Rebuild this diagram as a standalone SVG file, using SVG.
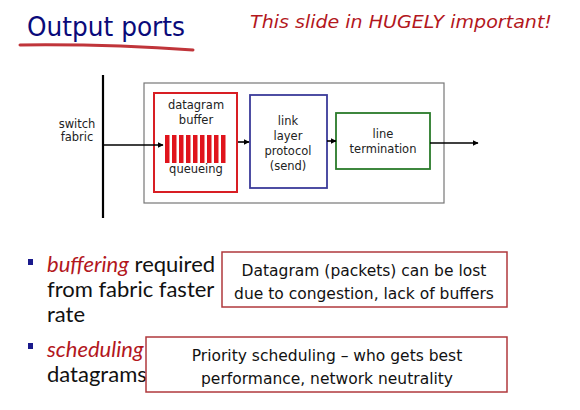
<svg xmlns="http://www.w3.org/2000/svg" width="580" height="410" viewBox="0 0 580 410">
<defs>
<marker id="ah" viewBox="0 0 10 10" refX="9" refY="5" markerWidth="6" markerHeight="6" orient="auto" markerUnits="userSpaceOnUse"><path d="M0,0 L10,5 L0,10 z" fill="#000"/></marker>
<style>
.lbl{font-family:"DejaVu Sans",Verdana,sans-serif;font-size:11.5px;fill:#222;text-anchor:middle}
.note{font-family:"DejaVu Sans",Verdana,sans-serif;font-size:15.5px;fill:#111;text-anchor:middle}
.bul{font-family:Lato,"Liberation Sans",sans-serif;font-size:22px;fill:#111}
.em{fill:#b3171d;font-style:italic}
.conn{stroke:#000;stroke-width:1.6;fill:none;marker-end:url(#ah)}
.bar{fill:#e0141c}
</style>
</defs>
<rect width="580" height="410" fill="#fff"/>
<text x="27" y="36" font-family="DejaVu Sans,Verdana,sans-serif" font-size="26" fill="#0a0a7a" textLength="158" lengthAdjust="spacingAndGlyphs">Output ports</text>
<path d="M20,45 Q110,44 193,50" stroke="#c0353a" stroke-width="3" fill="none" stroke-linecap="round"/>
<text x="250" y="28" font-family="DejaVu Sans,Verdana,sans-serif" font-size="17.5" font-style="italic" fill="#b3171d" textLength="302" lengthAdjust="spacingAndGlyphs">This slide in HUGELY important!</text>

<g id="fabric">
<line x1="103" y1="75" x2="103" y2="218" stroke="#000" stroke-width="2.2"/>
<text class="lbl" x="77" y="128">switch</text>
<text class="lbl" x="77" y="141">fabric</text>
</g>
<g id="port">
<rect x="144" y="83" width="300" height="120" fill="#fff" stroke="#777" stroke-width="1.2"/>
</g>
<g id="buffer">
<rect x="154" y="93" width="83" height="99" fill="#fff" stroke="#d81e24" stroke-width="2"/>
<text class="lbl" x="196" y="109">datagram</text>
<text class="lbl" x="196" y="124">buffer</text>
<g>
<rect class="bar" x="165" y="135" width="4.5" height="28"/>
<rect class="bar" x="172" y="135" width="4.5" height="28"/>
<rect class="bar" x="179" y="135" width="4.5" height="28"/>
<rect class="bar" x="186" y="135" width="4.5" height="28"/>
<rect class="bar" x="193" y="135" width="4.5" height="28"/>
<rect class="bar" x="200" y="135" width="4.5" height="28"/>
<rect class="bar" x="207" y="135" width="4.5" height="28"/>
<rect class="bar" x="214" y="135" width="4.5" height="28"/>
<rect class="bar" x="221" y="135" width="4.5" height="28"/>
</g>
<text class="lbl" x="196" y="173">queueing</text>
</g>
<g id="link">
<rect x="250" y="95" width="77" height="93" fill="#fff" stroke="#3b3b9a" stroke-width="1.8"/>
<text class="lbl" x="288" y="125">link</text>
<text class="lbl" x="288" y="140">layer</text>
<text class="lbl" x="288" y="155">protocol</text>
<text class="lbl" x="288" y="170">(send)</text>
</g>
<g id="line">
<rect x="336" y="113" width="94" height="56" fill="#fff" stroke="#2a7a2a" stroke-width="1.8"/>
<text class="lbl" x="383" y="138">line</text>
<text class="lbl" x="383" y="153">termination</text>
</g>
<g id="connectors">
<line class="conn" x1="103" y1="145" x2="163" y2="145"/>
<line class="conn" x1="238" y1="142" x2="249" y2="142"/>
<line class="conn" x1="327" y1="141" x2="336" y2="141"/>
<line class="conn" x1="430" y1="143" x2="478" y2="143"/>
</g>

<rect x="28" y="259" width="5" height="6" fill="#1a1a8c"/>
<text class="bul" x="47" y="272"><tspan class="em">buffering</tspan> required</text>
<text class="bul" x="47" y="297">from fabric faster</text>
<text class="bul" x="47" y="322">rate</text>
<rect x="28" y="343" width="5" height="6" fill="#1a1a8c"/>
<text class="bul" x="47" y="357"><tspan class="em">scheduling</tspan></text>
<text class="bul" x="47" y="382">datagrams</text>

<g id="note1">
<rect x="222" y="252" width="285" height="55" fill="#fff" stroke="#b0383c" stroke-width="1.5"/>
<text class="note" x="364" y="276">Datagram (packets) can be lost</text>
<text class="note" x="364" y="299">due to congestion, lack of buffers</text>
</g>
<g id="note2">
<rect x="146" y="337" width="361" height="55" fill="#fff" stroke="#b0383c" stroke-width="1.5"/>
<text class="note" x="327" y="361">Priority scheduling – who gets best</text>
<text class="note" x="327" y="384">performance, network neutrality</text>
</g>
</svg>
